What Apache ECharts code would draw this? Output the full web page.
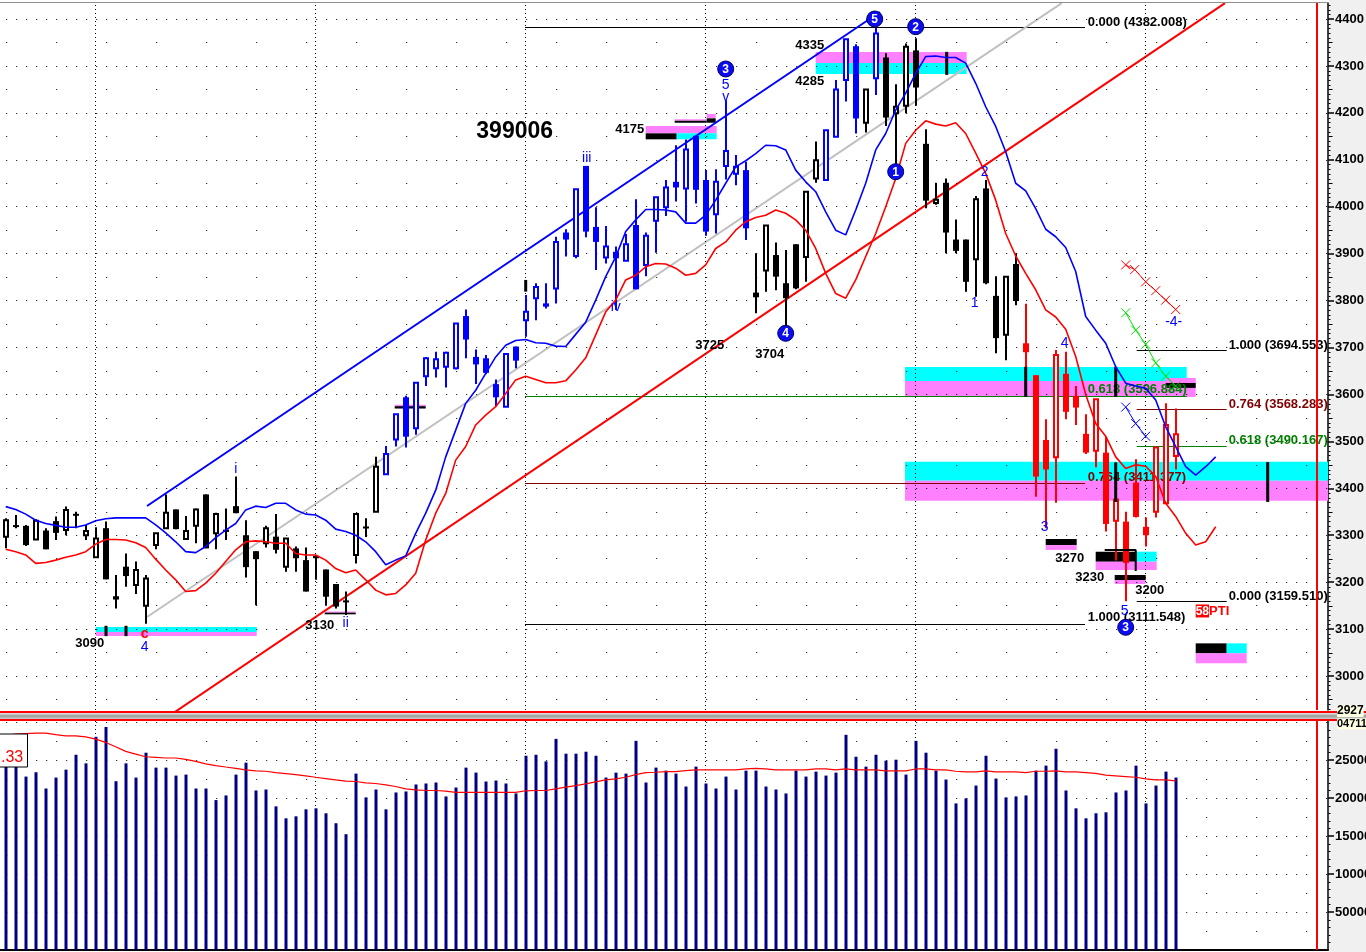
<!DOCTYPE html>
<html><head><meta charset="utf-8"><title>399006</title>
<script src="https://cdn.jsdelivr.net/npm/echarts@6.0.0/dist/echarts.min.js"></script>
<style>html,body{margin:0;padding:0;background:#fff;overflow:hidden}#chart{width:1366px;height:952px}</style>
</head><body><div id="chart"></div>
<script>
// ---------------- DATA ----------------
const opens = [3297,3321,3320,3291,3310,3330,3311,3342,3300,3253, 3315,3170,3233,3194,3150,3279,3315,3355,3292,3320, 3387,3304,3312,3362,3300,3266,3283,3297,3233,3272, 3247,3256,3227,3196,3160,3258,3315,3350,3430,3504, 3594,3528,3639,3656,3659,3656,3767,3680,3677,3622, 3574,3702,3758,3805,3794,3826,3945,3895,4087,3957, 3892,3904,3885,3961,3876,3970,3999,4053,4039,4151, 4057,3984,4087,4070,4078,3817,3864,3897,3837,3920, 3893,4060,4057,4149,4270,4342,4179,4274,4318,4199, 4215,4333,4134,4008,4051,3930,3930,3888,4039,3810, 3727,3878,3709,3641,3503,3466,3644,3597,3516,3480, 3476,3331,3329,3412,3318,3350,3368,3469];
const closes = [3332,3318,3279,3331,3270,3305,3354,3345,3309,3293, 3206,3163,3213,3226,3208,3304,3348,3313,3309,3355, 3272,3345,3307,3347,3232,3249,3315,3269,3293,3251, 3180,3251,3169,3148,3158,3345,3318,3446,3473,3558, 3510,3625,3677,3675,3689,3751,3717,3664,3646,3594, 3686,3672,3776,3829,3787,3925,3930,4037,3947,3925, 3915,3890,3920,3824,3938,4020,4041,4041,4122,4036, 3947,4053,4119,4085,3954,3807,3960,3851,3805,3826, 4032,4099,4163,4250,4357,4188,4250,4369,4190,4213, 4341,4254,4013,4015,3945,3906,3840,4016,3837,3720, 3851,3799,3690,3425,3440,3684,3563,3572,3476,3590, 3324,3376,3241,3339,3300,3487,3535,3515];
const highs = [3336,3343,3322,3334,3315,3340,3361,3350,3322,3317, 3329,3215,3261,3244,3215,3305,3387,3355,3341,3357, 3387,3348,3357,3425,3332,3266,3320,3345,3293,3276, 3274,3258,3227,3196,3180,3345,3336,3467,3490,3558, 3597,3625,3680,3691,3691,3751,3781,3696,3684,3632, 3686,3702,3812,3837,3837,3936,3952,4037,4087,3999, 3959,3915,3942,4016,3945,4020,4057,4131,4143,4151, 4078,4080,4227,4110,4096,3901,3960,3924,3908,3920, 4032,4139,4163,4270,4357,4346,4250,4382,4327,4261, 4348,4359,4165,4051,4060,3973,3930,4023,4057,3852, 3851,3901,3793,3641,3547,3694.5,3691,3618,3558,3590, 3510,3455,3350,3462,3338,3487,3581,3570];
const lows = [3272,3315,3277,3290,3270,3290,3300,3315,3290,3253, 3206,3144,3190,3175,3111.5,3270,3315,3313,3292,3283, 3272,3270,3290,3347,3210,3151,3274,3261,3222,3222, 3180,3205,3150,3144,3130,3240,3296,3350,3430,3489, 3487,3514,3618,3636,3615,3653,3677,3622,3643,3575, 3574,3656,3723,3758,3783,3794,3894,3890,3935,3865, 3879,3780,3885,3824,3852,3902,3980,4011,3968,4007, 3938,3943,4058,4046,3929,3773,3819,3822,3734,3824, 3840,4051,4057,4149,4224,4156,4158,4238,4172,4078, 4199,4215,3997,4004,3901,3901,3819,3808,3835,3688, 3673,3790,3598,3382,3315,3369,3547,3535,3473,3445, 3308,3246,3159.5,3338,3276,3338,3368,3440];
// candle colour runs: k = black, b = blue (wave), r = red (latest)
const candleColorRuns = [['k',38],['b',37],['k',7],['b',4],['k',1],['b',1],['k',14],['r',16]];

const volumes = [242600,242600,228200,233900,212500,226900,237300,256900,245600,280500, 293500,222100,245600,226900,259600,240000,240000,229500,230800,212500, 212500,197300,203400,230800,246500,209900,211200,189000,173300,175900, 185100,186400,179900,166800,152400,232100,200800,211200,185100,207300, 208600,217800,219100,220400,202100,213800,240000,233400,221700,223000, 219100,206000,255600,256900,248200,277800,258300,258300,260900,255600, 226900,233400,232100,275200,220400,240000,236000,232100,215100,241300, 219100,212500,228200,211200,236000,236000,215100,211200,206000,236000, 228200,234700,229500,233400,283100,254300,241300,256900,249100,250400, 230800,275200,259600,236000,224300,192900,199500,216400,255600,225600, 200800,202100,203400,236000,242600,264800,209900,186400,173300,179900, 181200,207300,209900,242600,192900,216400,234700,226900];
const volumeMA = [282600,284000,284800,285300,285300,283500,281800,281800,280500,277400, 273100,267400,261300,257800,254300,253500,252600,252600,250800,248200, 244800,242600,240800,239100,236900,235600,235200,233400,232100,230800, 229100,227300,225600,223800,222100,221700,220000,219100,217300,215100, 212100,210800,209900,209900,209000,207300,207300,207300,207300,207300, 207300,207300,209500,209900,209900,212100,214300,216400,218600,221200, 223800,225200,227300,230800,233400,233900,234700,234700,236000,236900, 236900,236900,236900,236900,238200,239100,238200,236900,236900,236900, 236900,238200,238200,236900,238200,236900,236900,236900,235600,235600, 235600,238200,238200,236900,236900,235200,234300,234300,235600,234300, 234300,234300,233400,235200,235200,235600,234300,234300,233400,232500, 230000,229100,228200,227300,225200,223800,223800,222500];

const maBlue = [3361,3355,3345,3332,3325,3321,3317,3317,3322,3331, 3335,3337,3337,3337,3337,3322,3305,3286,3265,3263, 3276,3295,3311,3325,3354,3362,3359,3368,3368,3354, 3345,3343,3332,3313,3308,3300,3286,3265,3237,3247, 3256,3304,3347,3396,3467,3524,3581,3609,3645,3680, 3705,3715,3717,3710,3709,3703,3702,3728,3754,3801, 3851,3893,3947,3972,3994,3994,3993,3989,3965,3965, 3982,4014,4050,4085,4098,4113,4131,4130,4121,4078, 4053,4032,3989,3950,3940,3993,4050,4121,4156,4206, 4242,4284,4320,4321,4318,4318,4306,4263,4213,4171, 4117,4050,4034,3996,3952,3936,3913,3862,3766,3737, 3709,3659,3624,3618,3613,3588,3531,3489,3446,3428, 3446,3467];
const maRed = [3270,3265,3258,3240,3242,3247,3253,3258,3265,3281, 3291,3291,3290,3284,3274,3249,3226,3205,3180,3182, 3198,3219,3244,3269,3286,3288,3286,3283,3283,3261, 3258,3258,3247,3229,3220,3226,3205,3183,3173,3176, 3194,3219,3290,3347,3389,3460,3489,3535,3556,3574, 3602,3631,3639,3632,3625,3625,3629,3652,3678,3727, 3776,3801,3844,3854,3872,3879,3878,3869,3854,3858, 3876,3911,3925,3950,3968,3977,3982,3993,3986,3972, 3950,3911,3858,3815,3805,3844,3894,3943,4000,4060, 4135,4163,4183,4176,4172,4179,4156,4114,4071,4014, 3943,3895,3858,3823,3780,3765,3739,3681,3600,3538, 3511,3467,3442,3450,3447,3425,3368,3340,3304,3279, 3286,3318];

// trend lines [barIndex, price]
const channelUpper = [[14.13,3362.3],[87.43,4415]];
const channelLower = [[16.93,2923.5],[121.93,4434]];
const grayTrend = [[14.13,3125.8],[105.6,4434]];

// fibonacci levels [fromBar, toBar, price, colourKey]
const fibLines = [[51.93,107.93,4382.008,'k'],[51.93,118.1,3596.884,'g'],[51.93,107.93,3411.377,'d'],[51.93,107.93,3111.548,'k'],
                  [113.1,122.1,3694.553,'k'],[113.1,122.1,3568.283,'d'],[113.1,122.1,3490.167,'g'],[113.1,122.1,3159.51,'k']];
const fibLabels = [[108.2,4393.6,'0.000 (4382.008)','k'],[108.2,3611.6,'0.618 (3596.884)','g'],[108.2,3424.1,'0.764 (3411.377)','d'],[108.2,3125.8,'1.000 (3111.548)','k'],
                   [122.3,3705.4,'1.000 (3694.553)','k'],[122.3,3579.6,'0.764 (3568.283)','d'],[122.3,3502.9,'0.618 (3490.167)','g'],[122.3,3170.5,'0.000 (3159.510)','k']];

// zones [fromBar, toBar, lowPrice, highPrice, colourKey]
const zones = [
  [9.0,25.1,3093.8,3104.5,'c'],[9.0,25.1,3085.3,3093.8,'m'],
  [31.9,35.0,3135,3137.5,'m'],[31.9,35.0,3131.5,3135,'k'],
  [38.9,42.0,3575,3578,'m'],[38.9,42.0,3570,3575,'k'],
  [64.0,71.1,4156.4,4172,'m'],[64.0,67.1,4143.6,4156.4,'k'],[67.1,71.1,4143.6,4156.4,'c'],
  [66.9,70.1,4183.4,4186.2,'m'],[66.9,70.1,4179,4183.4,'k'],[70.1,71.0,4188.3,4197.6,'m'],[70.1,71.0,4179,4188.3,'k'],
  [81.0,96.1,4306.2,4329.7,'m'],[81.0,96.1,4282.8,4306.2,'c'],
  [89.93,118.1,3628.6,3658.5,'c'],[89.93,118.1,3594.5,3628.6,'m'],[116.0,119.0,3594.5,3635,'m'],[116.0,119.0,3614,3624.4,'k'],
  [89.93,132.3,3416.2,3456.7,'c'],[89.93,132.3,3373.6,3416.2,'m'],
  [104.0,107.1,3279,3292,'k'],[104.0,107.1,3268.7,3279,'m'],
  [109.0,113.1,3243.7,3265,'k'],[113.1,115.1,3243.7,3265,'c'],[109.0,115.1,3225.9,3243.7,'m'],
  [110.9,114.0,3204.6,3215.2,'k'],[110.9,114.0,3196,3204.6,'m'],
  [119.0,122.1,3048.3,3069.6,'k'],[122.1,124.1,3048.3,3069.6,'c'],[119.0,124.1,3027,3048.3,'m']
];
const zoneBracket = [[109.9,3268.5],[113.0,3268.5],[113.0,3224]];
// vertical black marks [bar, lowPrice, highPrice]
const stopMarks = [[10.03,3085,3107],[12.03,3085,3107],[52.0,3819,3844],[94.1,4281,4330],[102.0,3595,3659],[111.0,3595,3659],[111.0,3371,3455],[126.2,3371,3456]];

// projection crosses [bar, price]
const redCrosses = [[112.0,3876],[112.9,3866],[114.0,3840],[115.0,3821],[116.0,3801],[117.0,3781]];
const greenCrosses = [[112.0,3774],[113.0,3737],[114.0,3707],[115.0,3667],[116.0,3639],[117.0,3618]];
const blueCrosses = [[112.0,3573],[113.0,3538],[114.0,3511]];

// text annotations [bar, price, text]
const priceNotes = [[80.4,4344.6,'4335'],[80.4,4267.9,'4285'],[62.4,4164.6,'4175'],[70.4,3703.6,'3725'],[76.4,3686.2,'3704'],[106.4,3251.5,'3270'],[108.4,3210.6,'3230'],[114.4,3181.6,'3200'],[31.4,3107,'3130'],[8.4,3070.4,'3090']];
const titleNote = [[50.9,4160.7,'399006']];
const waveNotes = [[23.0,3441,'i'],[34.0,3113,'ii'],[58.1,4103.8,'iii'],[61.0,3785,'iv'],[72.0,4259.4,'5'],[72.0,4233.8,'v'],[13.9,3061.9,'4'],[96.9,3794.9,'1'],[97.9,4074,'2'],[103.9,3318.3,'3'],[105.9,3709.6,'4'],[111.9,3138.6,'5'],[116.8,3755,'-4-']];
const redWaveNotes = [[13.9,3089.6,'c']];
const circledWaves = [[72.0,4293.5,'3'],[86.9,4400,'5'],[91.0,4383.6,'2'],[89.0,4074.6,'1'],[78.0,3730.3,'4'],[112.0,3103.8,'3']];
const ptiNote = [[119.0,3138.6,'58','PTI']];

// axes
const priceTicks = [3000,3100,3200,3300,3400,3500,3600,3700,3800,3900,4000,4100,4200,4300,4400];
const priceHalfRows = [2950,3050,3150,3250,3350,3450,3550,3650,3750,3850,3950,4050,4150,4250,4350];
const volumeTicks = [50000,100000,150000,200000,250000];
const volumeHalfRows = [25000,75000,125000,175000,225000,275000];
const monthBars = [9,31,52,70,91,114];
const cursorBar = 131.1;

// ---------------- CHART ----------------
const FONT = '"Liberation Sans", Arial, sans-serif';
const X_MIN = -0.57, X_MAX = 132.23, P_MIN = 2927.6, P_MAX = 4434.1, V_MAX = 301316;
const PAL = {k:'#000000', b:'#0000ff', r:'#ff0000', c:'#00ffff', m:'#ff80ff', g:'#008000', d:'#800000'};
const candleColor = [];
candleColorRuns.forEach(([c, n]) => { for (let j = 0; j < n; j++) candleColor.push(c); });

const minorPriceTicks = [], minorVolTicks = [];
for (let v = 2930; v <= 4430; v += 10) { if (v % 100 !== 0) minorPriceTicks.push([v, v % 50 === 0 ? 4 : 2]); }
for (let v = 10000; v <= 300000; v += 10000) { if (v % 50000 !== 0) minorVolTicks.push([v, 2]); }

function tickSeries(xi, yi, list) {
  return {type:'custom', xAxisIndex:xi, yAxisIndex:yi, clip:false, silent:true, z:10, data:list,
    renderItem:(params, api) => { const p = api.coord([X_MAX, api.value(0)]); return {type:'line', shape:{x1:p[0]+0.5, y1:Math.round(p[1])+0.5, x2:p[0]+0.5+api.value(1), y2:Math.round(p[1])+0.5}, style:{stroke:'#000', lineWidth:1}}; }};
}
function textSeries(list, font, color, align, z) {
  return {type:'custom', xAxisIndex:0, yAxisIndex:0, clip:false, silent:true, z:z,
    data:list.map(d => [d[0], d[1]]),
    renderItem:(params, api) => {
      const p = api.coord([api.value(0), api.value(1)]);
      const d = list[params.dataIndex];
      return {type:'text', x:p[0], y:p[1], style:{text:d[2], fill:PAL[d[3]] || color, font:font, align:align, verticalAlign:'middle'}};
    }};
}
function crossSeries(list, color) {
  return [{type:'line', xAxisIndex:0, yAxisIndex:0, data:list, showSymbol:false, symbol:'none', silent:true, z:6, lineStyle:{color:color, width:1}},
    {type:'custom', xAxisIndex:0, yAxisIndex:0, silent:true, z:6, data:list,
     renderItem:(params, api) => { const p = api.coord([api.value(0), api.value(1)]); const s = 4.5;
       return {type:'group', children:[
         {type:'line', shape:{x1:p[0]-s, y1:p[1]-s, x2:p[0]+s, y2:p[1]+s}, style:{stroke:color, lineWidth:1}},
         {type:'line', shape:{x1:p[0]-s, y1:p[1]+s, x2:p[0]+s, y2:p[1]-s}, style:{stroke:color, lineWidth:1}}]}; }}];
}
function dotted(gridIdx, rows, halfRows) {
  return {type:'line', xAxisIndex:gridIdx, yAxisIndex:gridIdx, data:[[-50, gridIdx ? 1000 : 3000]], showSymbol:false, silent:true, z:1, lineStyle:{width:0},
    markLine:{silent:true, symbol:['none','none'], animation:false, label:{show:false},
      data:[...rows.map(v => ({yAxis:v, lineStyle:{color:'#000', width:1, type:[1,9], dashOffset:3.8}})),
            ...halfRows.map(v => ({yAxis:v, lineStyle:{color:'#000', width:1, type:[1,49], dashOffset:43.8}})),
            ...monthBars.map(v => ({xAxis:v, lineStyle:{color:'#000', width:1, type:[1,3]}}))]}};
}
function cursorLine(gridIdx) {
  return {type:'line', xAxisIndex:gridIdx, yAxisIndex:gridIdx, data:[[-50, gridIdx ? 1000 : 3000]], showSymbol:false, silent:true, z:9, lineStyle:{width:0},
    markLine:{silent:true, symbol:['none','none'], animation:false, label:{show:false}, data:[{xAxis:cursorBar}], lineStyle:{color:'#ff0000', width:2, type:'solid'}}};
}

const series = [
  dotted(0, priceTicks, priceHalfRows),
  dotted(1, volumeTicks.concat([300000]), volumeHalfRows),
  // zones
  {type:'custom', xAxisIndex:0, yAxisIndex:0, clip:true, silent:true, z:2, data:zones.map(z => [z[0], z[2]]),
   renderItem:(params, api) => { const z = zones[params.dataIndex]; const a = api.coord([z[0], z[3]]), b = api.coord([z[1], z[2]]);
     return {type:'rect', shape:{x:a[0], y:a[1], width:b[0]-a[0], height:b[1]-a[1]}, style:{fill:PAL[z[4]]}}; }},
  {type:'line', xAxisIndex:0, yAxisIndex:0, data:zoneBracket, showSymbol:false, symbol:'none', silent:true, z:5, lineStyle:{color:'#000', width:2}},
  // fib lines
  {type:'custom', xAxisIndex:0, yAxisIndex:0, clip:true, silent:true, z:3, data:fibLines.map(f => [f[0], f[2]]),
   renderItem:(params, api) => { const f = fibLines[params.dataIndex]; const a = api.coord([f[0], f[2]]), b = api.coord([f[1], f[2]]); const y = Math.round(a[1]) + 0.5;
     return {type:'line', shape:{x1:a[0], y1:y, x2:b[0], y2:y}, style:{stroke:PAL[f[3]], lineWidth:1}}; }},
  textSeries(fibLabels, 'bold 13px ' + FONT, '#000', 'left', 3),
  // trend lines
  {type:'line', xAxisIndex:0, yAxisIndex:0, data:grayTrend, showSymbol:false, symbol:'none', silent:true, z:4, lineStyle:{color:'#c0c0c0', width:2}},
  {type:'line', xAxisIndex:0, yAxisIndex:0, data:channelUpper, showSymbol:false, symbol:'none', silent:true, z:4, lineStyle:{color:'#0000ff', width:2}},
  {type:'line', xAxisIndex:0, yAxisIndex:0, data:channelLower, showSymbol:false, symbol:'none', silent:true, z:4, lineStyle:{color:'#ff0000', width:2}},
  // candles
  {type:'custom', xAxisIndex:0, yAxisIndex:0, clip:true, silent:true, z:5,
   data:opens.map((o, i) => [i, o, closes[i], lows[i], highs[i]]),
   renderItem:(params, api) => {
     const i = api.value(0), o = api.value(1), c = api.value(2), l = api.value(3), h = api.value(4);
     const col = PAL[candleColor[params.dataIndex]];
     const pO = api.coord([i, o]), pC = api.coord([i, c]), pH = api.coord([i, h]), pL = api.coord([i, l]);
     const x = Math.round(pO[0]);
     const top = Math.min(pO[1], pC[1]), bot = Math.max(pO[1], pC[1]);
     const kids = [{type:'line', shape:{x1:x, y1:pH[1], x2:x, y2:pL[1]}, style:{stroke:col, lineWidth:2}}];
     if (bot - top < 2.2) kids.push({type:'line', shape:{x1:x-3, y1:(top+bot)/2, x2:x+3, y2:(top+bot)/2}, style:{stroke:col, lineWidth:2}});
     else if (c > o) kids.push({type:'rect', shape:{x:x-2, y:top, width:4, height:bot-top}, style:{fill:'#fff', stroke:col, lineWidth:2}});
     else kids.push({type:'rect', shape:{x:x-3, y:top, width:6, height:bot-top}, style:{fill:col}});
     return {type:'group', children:kids};
   }},
  // black stop marks
  {type:'custom', xAxisIndex:0, yAxisIndex:0, clip:true, silent:true, z:5, data:stopMarks.map(s => [s[0], s[1]]),
   renderItem:(params, api) => { const s = stopMarks[params.dataIndex]; const a = api.coord([s[0], s[1]]), b = api.coord([s[0], s[2]]);
     return {type:'line', shape:{x1:a[0], y1:a[1], x2:b[0], y2:b[1]}, style:{stroke:'#000', lineWidth:3}}; }},
  // moving averages
  {type:'line', xAxisIndex:0, yAxisIndex:0, data:maBlue.map((v, i) => [i, v]), showSymbol:false, symbol:'none', silent:true, z:6, lineStyle:{color:'#0000ff', width:1.6}},
  {type:'line', xAxisIndex:0, yAxisIndex:0, data:maRed.map((v, i) => [i, v]), showSymbol:false, symbol:'none', silent:true, z:6, lineStyle:{color:'#ff0000', width:1.6}},
  ...crossSeries(redCrosses, '#ff0000'),
  ...crossSeries(greenCrosses, '#00e000'),
  ...crossSeries(blueCrosses, '#0000ff'),
  // labels
  textSeries(priceNotes, 'bold 13px ' + FONT, '#000', 'center', 7),
  textSeries(titleNote, 'bold 23px ' + FONT, '#000', 'center', 7),
  textSeries(waveNotes, '14px ' + FONT, '#0000ff', 'center', 7),
  textSeries(redWaveNotes, 'bold 14px ' + FONT, '#ff0000', 'center', 7),
  {type:'custom', xAxisIndex:0, yAxisIndex:0, clip:false, silent:true, z:8, data:circledWaves.map(d => [d[0], d[1]]),
   renderItem:(params, api) => { const p = api.coord([api.value(0), api.value(1)]);
     return {type:'group', children:[
       {type:'circle', shape:{cx:p[0], cy:p[1], r:8}, style:{fill:'#0c0cf0', stroke:'#000060', lineWidth:1}},
       {type:'text', x:p[0], y:p[1]+0.5, style:{text:circledWaves[params.dataIndex][2], fill:'#fff', font:'bold 12px ' + FONT, align:'center', verticalAlign:'middle'}}]}; }},
  {type:'custom', xAxisIndex:0, yAxisIndex:0, clip:false, silent:true, z:8, data:ptiNote.map(d => [d[0], d[1]]),
   renderItem:(params, api) => { const p = api.coord([api.value(0), api.value(1)]); const d = ptiNote[params.dataIndex];
     return {type:'text', x:p[0], y:p[1], style:{text:'{a|' + d[2] + '}{b|' + d[3] + '}', verticalAlign:'middle', align:'left',
       rich:{a:{fill:'#fff', backgroundColor:'#ff0000', font:'bold 12px ' + FONT, padding:[1,0,0,0]}, b:{fill:'#ff0000', font:'bold 13px ' + FONT}}}}; }},
  // volume
  {type:'custom', xAxisIndex:1, yAxisIndex:1, clip:true, silent:true, z:5, data:volumes.map((v, i) => [i, v]),
   renderItem:(params, api) => { const t = api.coord([api.value(0), api.value(1)]), b = api.coord([api.value(0), 0]);
     return {type:'rect', shape:{x:Math.round(t[0])-1.5, y:t[1], width:3, height:b[1]-t[1]}, style:{fill:'#000080'}}; }},
  {type:'line', xAxisIndex:1, yAxisIndex:1, data:volumeMA.map((v, i) => [i, v]), showSymbol:false, symbol:'none', silent:true, z:6, lineStyle:{color:'#ff0000', width:1.2}},
  tickSeries(0, 0, minorPriceTicks),
  tickSeries(1, 1, minorVolTicks),
  cursorLine(0),
  cursorLine(1)
];

const axisLabelStyle = {color:'#000', fontSize:13, fontWeight:'bold', fontFamily:FONT, margin:7, formatter:(v) => String(v)};
const option = {
  animation:false,
  backgroundColor:'#ffffff',
  grid:[{left:0, right:38, top:3, height:707, containLabel:false, outerBoundsMode:'none'},
        {left:0, right:38, top:721, height:229, containLabel:false, outerBoundsMode:'none'}],
  xAxis:[{type:'value', gridIndex:0, min:X_MIN, max:X_MAX, show:false},
         {type:'value', gridIndex:1, min:X_MIN, max:X_MAX, axisLine:{show:true, onZero:false, lineStyle:{color:'#000', width:2}}, axisTick:{show:false}, axisLabel:{show:false}, splitLine:{show:false}}],
  yAxis:[{type:'value', gridIndex:0, position:'right', min:P_MIN, max:P_MAX,
          axisLine:{show:true, onZero:false, lineStyle:{color:'#000', width:1.5}},
          axisTick:{show:true, customValues:priceTicks, length:6, lineStyle:{color:'#000', width:1.5}},
          axisLabel:Object.assign({customValues:priceTicks}, axisLabelStyle), splitLine:{show:false}},
         {type:'value', gridIndex:1, position:'right', min:0, max:V_MAX,
          axisLine:{show:true, onZero:false, lineStyle:{color:'#000', width:1.5}},
          axisTick:{show:true, customValues:volumeTicks, length:6, lineStyle:{color:'#000', width:1.5}},
          axisLabel:Object.assign({customValues:volumeTicks}, axisLabelStyle), splitLine:{show:false}}],
  series:series,
  graphic:[
    {type:'rect', z:-10, silent:true, shape:{x:1329, y:0, width:37, height:952}, style:{fill:'#f0f0f0'}},
    {type:'line', z:100, silent:true, shape:{x1:0, y1:2.5, x2:1328, y2:2.5}, style:{stroke:'#909090', lineWidth:1}},
    {type:'rect', z:100, silent:true, shape:{x:0, y:711, width:1366, height:2}, style:{fill:'#ff0000'}},
    {type:'rect', z:100, silent:true, shape:{x:0, y:713, width:1366, height:6},
     style:{fill:new echarts.graphic.LinearGradient(0,0,0,1,[{offset:0,color:'#e8e8e8'},{offset:0.5,color:'#9a9a9a'},{offset:1,color:'#d0d0d0'}])}},
    {type:'rect', z:100, silent:true, shape:{x:0, y:719, width:1366, height:2}, style:{fill:'#ff0000'}},
    {type:'text', z:101, silent:true, x:1337, y:711, style:{text:'2927', fill:'#000', font:'bold 12px ' + FONT, backgroundColor:'#ffffe1', verticalAlign:'middle'}},
    {type:'text', z:101, silent:true, x:1337, y:724, style:{text:'047114', fill:'#000', font:'bold 11px ' + FONT, backgroundColor:'#ffffe1', verticalAlign:'middle'}},
    {type:'rect', z:100, silent:true, shape:{x:-1, y:734, width:28.5, height:33}, style:{fill:'#fff', stroke:'#000', lineWidth:1}},
    {type:'text', z:101, silent:true, x:1, y:758, style:{text:'.33', fill:'#ff0000', font:'16px ' + FONT, verticalAlign:'middle'}}
  ]
};
const chart = echarts.init(document.getElementById('chart'), null, {renderer:'canvas', width:1366, height:952});
chart.setOption(option);
</script></body></html>
